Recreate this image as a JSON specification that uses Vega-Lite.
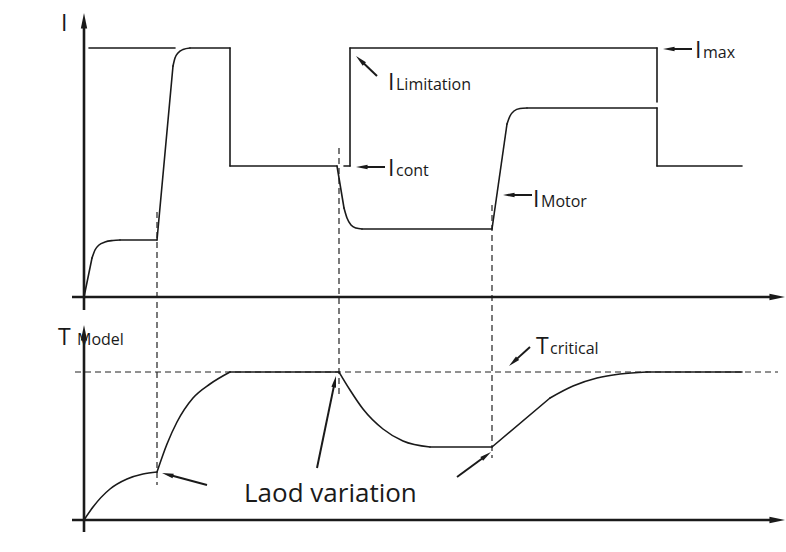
{
  "$schema": "https://vega.github.io/schema/vega-lite/v6.json",
  "width": 786,
  "height": 552,
  "autosize": {"type": "fit", "contains": "padding"},
  "padding": 0,
  "background": "white",
  "config": {"view": {"stroke": null}},
  "datasets": {
    "segs": [
      {"x": 89, "y": 48, "x2": 175, "y2": 48, "kind": "solid"},
      {"x": 84, "y": 297, "x2": 92, "y2": 258, "kind": "solid"},
      {"x": 120, "y": 240, "x2": 157, "y2": 240, "kind": "solid"},
      {"x": 157, "y": 240, "x2": 173, "y2": 66, "kind": "solid"},
      {"x": 190, "y": 48, "x2": 230, "y2": 48, "kind": "solid"},
      {"x": 230, "y": 48, "x2": 230, "y2": 166, "kind": "solid"},
      {"x": 230, "y": 166, "x2": 337, "y2": 166, "kind": "solid"},
      {"x": 337, "y": 166, "x2": 344, "y2": 208, "kind": "solid"},
      {"x": 362, "y": 229, "x2": 492, "y2": 229, "kind": "solid"},
      {"x": 492, "y": 229, "x2": 507, "y2": 124, "kind": "solid"},
      {"x": 527, "y": 108, "x2": 657, "y2": 108, "kind": "solid"},
      {"x": 657, "y": 108, "x2": 657, "y2": 166, "kind": "solid"},
      {"x": 657, "y": 166, "x2": 742, "y2": 166, "kind": "solid"},
      {"x": 344, "y": 166, "x2": 350, "y2": 166, "kind": "solid"},
      {"x": 350, "y": 166, "x2": 350, "y2": 48, "kind": "solid"},
      {"x": 350, "y": 48, "x2": 657, "y2": 48, "kind": "solid"},
      {"x": 657, "y": 48, "x2": 657, "y2": 102, "kind": "solid"},
      {"x": 230, "y": 372, "x2": 339, "y2": 372, "kind": "solid"},
      {"x": 430, "y": 447, "x2": 492, "y2": 447, "kind": "solid"},
      {"x": 492, "y": 447, "x2": 550, "y2": 398, "kind": "solid"},
      {"x": 647, "y": 372, "x2": 742, "y2": 372, "kind": "solid"},
      {"x": 157, "y": 212, "x2": 157, "y2": 485, "kind": "dash"},
      {"x": 339, "y": 148, "x2": 339, "y2": 397, "kind": "dash"},
      {"x": 492, "y": 205, "x2": 492, "y2": 458, "kind": "dash"},
      {"x": 75, "y": 372, "x2": 778, "y2": 372, "kind": "dash"}
    ],
    "curves": [
      {"id": "c1", "x": 92, "y": 258}, {"id": "c1", "x": 95, "y": 250}, {"id": "c1", "x": 99, "y": 245}, {"id": "c1", "x": 105, "y": 242}, {"id": "c1", "x": 113, "y": 240.5}, {"id": "c1", "x": 120, "y": 240},
      {"id": "c2", "x": 173, "y": 66}, {"id": "c2", "x": 175, "y": 58}, {"id": "c2", "x": 178, "y": 53}, {"id": "c2", "x": 183, "y": 49.5}, {"id": "c2", "x": 190, "y": 48},
      {"id": "c3", "x": 344, "y": 208}, {"id": "c3", "x": 347, "y": 218}, {"id": "c3", "x": 351, "y": 225}, {"id": "c3", "x": 356, "y": 228}, {"id": "c3", "x": 362, "y": 229},
      {"id": "c4", "x": 507, "y": 124}, {"id": "c4", "x": 510, "y": 116}, {"id": "c4", "x": 514, "y": 111}, {"id": "c4", "x": 520, "y": 108.5}, {"id": "c4", "x": 527, "y": 108},
      {"id": "c5", "x": 84, "y": 520}, {"id": "c5", "x": 93, "y": 507}, {"id": "c5", "x": 110, "y": 489}, {"id": "c5", "x": 127, "y": 479}, {"id": "c5", "x": 143, "y": 474}, {"id": "c5", "x": 157, "y": 472},
      {"id": "c6", "x": 157, "y": 472}, {"id": "c6", "x": 167, "y": 444}, {"id": "c6", "x": 177, "y": 422}, {"id": "c6", "x": 193, "y": 398}, {"id": "c6", "x": 210, "y": 384}, {"id": "c6", "x": 230, "y": 372},
      {"id": "c7", "x": 339, "y": 372}, {"id": "c7", "x": 350, "y": 390}, {"id": "c7", "x": 363, "y": 409}, {"id": "c7", "x": 383, "y": 429}, {"id": "c7", "x": 403, "y": 441}, {"id": "c7", "x": 430, "y": 447},
      {"id": "c8", "x": 550, "y": 398}, {"id": "c8", "x": 573, "y": 386}, {"id": "c8", "x": 597, "y": 378}, {"id": "c8", "x": 620, "y": 374}, {"id": "c8", "x": 647, "y": 372}
    ],
    "arrows": [
      {"x": 84, "y": 310, "x2": 84, "y2": 13, "kind": "axis"},
      {"x": 72, "y": 297, "x2": 785, "y2": 297, "kind": "axis"},
      {"x": 84, "y": 532, "x2": 84, "y2": 325, "kind": "axis"},
      {"x": 72, "y": 520, "x2": 785, "y2": 520, "kind": "axis"},
      {"x": 692, "y": 49, "x2": 663, "y2": 49, "kind": "note"},
      {"x": 377, "y": 76, "x2": 356, "y2": 56, "kind": "note"},
      {"x": 385, "y": 167, "x2": 356, "y2": 167, "kind": "note"},
      {"x": 532, "y": 195, "x2": 503, "y2": 195, "kind": "note"},
      {"x": 207, "y": 485, "x2": 162, "y2": 473, "kind": "note"},
      {"x": 317, "y": 468, "x2": 336, "y2": 376, "kind": "note"},
      {"x": 457, "y": 477, "x2": 491, "y2": 452, "kind": "note"},
      {"x": 530, "y": 347, "x2": 509, "y2": 366, "kind": "note"}
    ],
    "labels": [
      {"x": 61, "y": 31, "t": "I", "role": "main"},
      {"x": 58, "y": 345, "t": "T", "role": "main"},
      {"x": 77, "y": 345, "t": "Model", "role": "sub"},
      {"x": 388, "y": 90, "t": "I", "role": "main"},
      {"x": 396, "y": 90, "t": "Limitation", "role": "sub"},
      {"x": 388, "y": 176, "t": "I", "role": "main"},
      {"x": 396, "y": 176, "t": "cont", "role": "sub"},
      {"x": 533, "y": 207, "t": "I", "role": "main"},
      {"x": 541, "y": 207, "t": "Motor", "role": "sub"},
      {"x": 695, "y": 58, "t": "I", "role": "main"},
      {"x": 703, "y": 58, "t": "max", "role": "sub"},
      {"x": 536, "y": 354, "t": "T", "role": "main"},
      {"x": 550, "y": 354, "t": "critical", "role": "sub"},
      {"x": 244, "y": 502, "t": "Laod variation", "role": "note"}
    ]
  },
  "encoding": {
    "x": {"field": "x", "type": "quantitative", "scale": {"domain": [0, 786], "nice": false, "zero": false}, "axis": null},
    "y": {"field": "y", "type": "quantitative", "scale": {"domain": [0, 552], "nice": false, "zero": false, "reverse": true}, "axis": null}
  },
  "layer": [
    {
      "data": {"name": "segs"},
      "transform": [{"filter": "datum.kind === 'dash'"}],
      "mark": {"type": "rule", "color": "#222", "strokeWidth": 1.2, "strokeDash": [6, 4]},
      "encoding": {"x2": {"field": "x2"}, "y2": {"field": "y2"}}
    },
    {
      "data": {"name": "segs"},
      "transform": [{"filter": "datum.kind === 'solid'"}],
      "mark": {"type": "rule", "color": "#1a1a1a", "strokeWidth": 1.6, "strokeCap": "round"},
      "encoding": {"x2": {"field": "x2"}, "y2": {"field": "y2"}}
    },
    {
      "data": {"name": "curves"},
      "mark": {"type": "line", "color": "#1a1a1a", "strokeWidth": 1.6, "interpolate": "monotone", "strokeCap": "round"},
      "encoding": {"detail": {"field": "id"}}
    },
    {
      "data": {"name": "arrows"},
      "transform": [
        {"calculate": "sqrt(pow(datum.x2-datum.x,2)+pow(datum.y2-datum.y,2))", "as": "len"},
        {"calculate": "datum.kind === 'axis' ? 12 : 8", "as": "back"},
        {"calculate": "datum.x2-(datum.x2-datum.x)/datum.len*datum.back", "as": "sx"},
        {"calculate": "datum.y2-(datum.y2-datum.y)/datum.len*datum.back", "as": "sy"}
      ],
      "mark": {"type": "rule", "color": "#1a1a1a"},
      "encoding": {
        "x2": {"field": "sx"},
        "y2": {"field": "sy"},
        "strokeWidth": {"condition": {"test": "datum.kind === 'axis'", "value": 2.6}, "value": 2}
      }
    },
    {
      "data": {"name": "arrows"},
      "transform": [
        {"calculate": "atan2(datum.x2-datum.x, datum.y-datum.y2)*180/PI", "as": "ang"}
      ],
      "mark": {"type": "point", "shape": "M0,0L0.45,2.2L-0.45,2.2Z", "filled": true, "color": "#1a1a1a", "opacity": 1, "strokeWidth": 0},
      "encoding": {
        "x": {"field": "x2", "type": "quantitative"},
        "y": {"field": "y2", "type": "quantitative"},
        "angle": {"field": "ang", "type": "quantitative", "scale": null},
        "size": {"condition": {"test": "datum.kind === 'axis'", "value": 200}, "value": 110}
      }
    },
    {
      "data": {"name": "labels"},
      "transform": [{"filter": "datum.role === 'main'"}],
      "mark": {"type": "text", "align": "left", "baseline": "alphabetic", "font": "Open Sans", "fontSize": 23, "color": "#1a1a1a"},
      "encoding": {"text": {"field": "t"}}
    },
    {
      "data": {"name": "labels"},
      "transform": [{"filter": "datum.role === 'sub'"}],
      "mark": {"type": "text", "align": "left", "baseline": "alphabetic", "font": "Open Sans", "fontSize": 16, "color": "#1a1a1a"},
      "encoding": {"text": {"field": "t"}}
    },
    {
      "data": {"name": "labels"},
      "transform": [{"filter": "datum.role === 'note'"}],
      "mark": {"type": "text", "align": "left", "baseline": "alphabetic", "font": "Open Sans", "fontSize": 26, "color": "#1a1a1a"},
      "encoding": {"text": {"field": "t"}}
    }
  ]
}
